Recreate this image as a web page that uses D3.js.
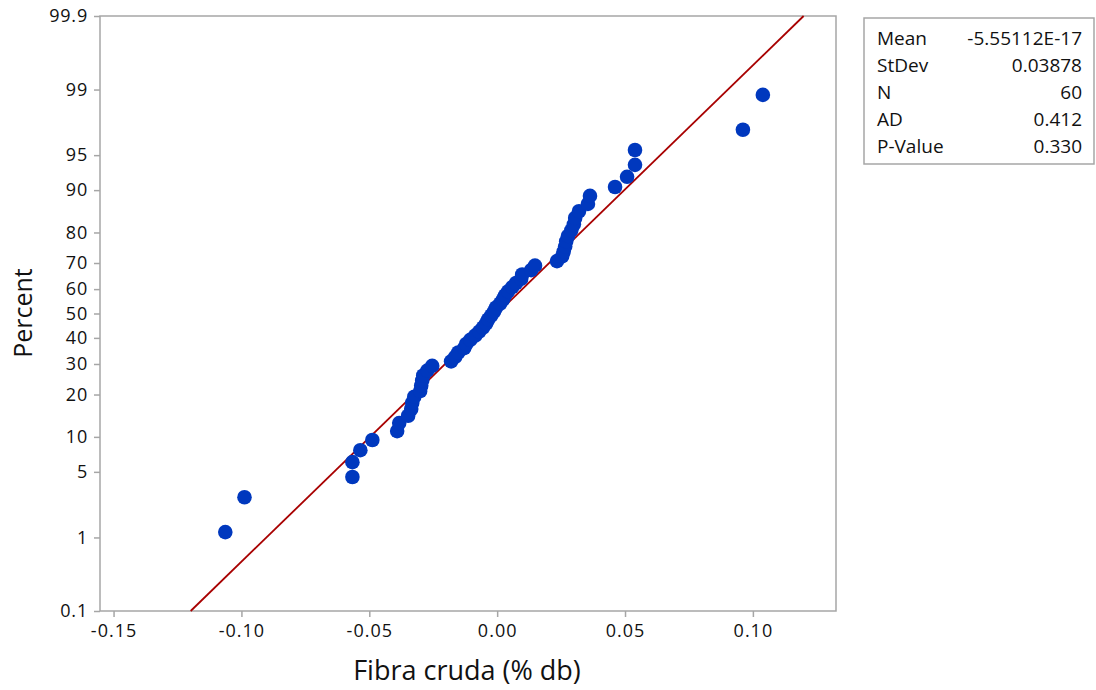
<!DOCTYPE html>
<html>
<head>
<meta charset="utf-8">
<script src="https://cdn.jsdelivr.net/npm/d3@7"></script>
<style>
  body { margin: 0; background: #fff; }
  text { font-family: 'Open Sans', 'Noto Sans', sans-serif; fill: #111; }
</style>
</head>
<body>
<script>
// sorted sample values
var values = [
  -0.1063, -0.0988, -0.0566, -0.0566, -0.0535, -0.0488, -0.0391, -0.0383, -0.0348, -0.0336,
  -0.0332, -0.0324, -0.0301, -0.0297, -0.0293, -0.0289, -0.0273, -0.0254, -0.0180, -0.0164,
  -0.0152, -0.0129, -0.0121, -0.0105, -0.0086, -0.0070, -0.0055, -0.0043, -0.0035, -0.0023,
  -0.0012, -0.0004, 0.0012, 0.0023, 0.0031, 0.0043, 0.0059, 0.0074, 0.0094, 0.0098,
  0.0133, 0.0148, 0.0234, 0.0254, 0.0260, 0.0266, 0.0270, 0.0277, 0.0290, 0.0300,
  0.0305, 0.0320, 0.0355, 0.0363, 0.0461, 0.0508, 0.0539, 0.0539, 0.0961, 0.1039
]
var xTicks = [-0.15, -0.10, -0.05, 0.00, 0.05, 0.10]
var pctTicks = [0.1, 1, 5, 10, 20, 30, 40, 50, 60, 70, 80, 90, 95, 99, 99.9]
var statLabels = ['Mean', 'StDev', 'N', 'AD', 'P-Value']
var statValues = ['-5.55112E-17', '0.03878', '60', '0.412', '0.330']
var fitMean = 0
var fitSd = 0.03878

// inverse normal cdf (Acklam)
function qnorm (p) {
  var a = [-39.69683028665376, 220.9460984245205, -275.9285104469687, 138.3577518672690, -30.66479806614716, 2.506628277459239]
  var b = [-54.47609879822406, 161.5858368580409, -155.6989798598866, 66.80131188771972, -13.28068155288572]
  var c = [-0.007784894002430293, -0.3223964580411365, -2.400758277161838, -2.549732539343734, 4.374664141464968, 2.938163982698783]
  var d = [0.007784695709041462, 0.3224671290700398, 2.445134137142996, 3.754408661907416]
  var q, r
  if (p < 0.02425) {
    q = Math.sqrt(-2 * Math.log(p))
    return (((((c[0] * q + c[1]) * q + c[2]) * q + c[3]) * q + c[4]) * q + c[5]) / ((((d[0] * q + d[1]) * q + d[2]) * q + d[3]) * q + 1)
  }
  if (p > 1 - 0.02425) return -qnorm(1 - p)
  q = p - 0.5
  r = q * q
  return (((((a[0] * r + a[1]) * r + a[2]) * r + a[3]) * r + a[4]) * r + a[5]) * q / (((((b[0] * r + b[1]) * r + b[2]) * r + b[3]) * r + b[4]) * r + 1)
}

var width = 1096
var height = 690
var plotLeft = 100
var plotRight = 836
var plotTop = 16
var plotBottom = 611

var svg = d3.select('body').append('svg')
  .attr('width', width)
  .attr('height', height)

var x = d3.scaleLinear().domain([-0.1553, 0.1325]).range([plotLeft, plotRight])
var y = d3.scaleLinear().domain([qnorm(0.001), qnorm(0.999)]).range([plotBottom, plotTop])

var n = values.length
var points = values.map(function (v, i) {
  return { v: v, z: qnorm((i + 1 - 0.3) / (n + 0.4)) }
})

// frame
svg.append('rect')
  .attr('x', plotLeft)
  .attr('y', plotTop)
  .attr('width', plotRight - plotLeft)
  .attr('height', plotBottom - plotTop)
  .style('fill', 'none')
  .style('stroke', '#a6a6a6')
  .style('stroke-width', 1.5)

// y axis
var yAxis = d3.axisLeft(y)
  .tickValues(pctTicks.map(function (p) { return qnorm(p / 100) }))
  .tickFormat(function (d, i) { return String(pctTicks[i]) })
  .tickSize(6)
  .tickSizeOuter(0)
var gy = svg.append('g').attr('transform', 'translate(' + plotLeft + ',0)').call(yAxis)
gy.attr('font-family', null)
gy.select('.domain').remove()
gy.selectAll('line').style('stroke', '#a6a6a6').style('stroke-width', 1.5)
gy.selectAll('text')
  .attr('fill', null)
  .attr('x', -12)
  .style('font-size', '18px')
  .style('letter-spacing', '0.8px')

// x axis
var xAxis = d3.axisBottom(x)
  .tickValues(xTicks)
  .tickFormat(function (d) { return d3.format('.2f')(d).replace('−', '-') })
  .tickSize(6)
  .tickSizeOuter(0)
var gx = svg.append('g').attr('transform', 'translate(0,' + plotBottom + ')').call(xAxis)
gx.attr('font-family', null)
gx.select('.domain').remove()
gx.selectAll('line').style('stroke', '#a6a6a6').style('stroke-width', 1.5)
gx.selectAll('text')
  .attr('fill', null)
  .attr('y', 13)
  .style('font-size', '18px')
  .style('letter-spacing', '1px')

// fitted line
var zLo = qnorm(0.001)
var zHi = qnorm(0.999)
svg.append('line')
  .attr('x1', x(fitMean + zLo * fitSd))
  .attr('y1', y(zLo))
  .attr('x2', x(fitMean + zHi * fitSd))
  .attr('y2', y(zHi))
  .style('stroke', '#a80000')
  .style('stroke-width', 1.8)

// points
svg.append('g').selectAll('circle')
  .data(points)
  .enter().append('circle')
  .attr('cx', function (d) { return x(d.v) })
  .attr('cy', function (d) { return y(d.z) })
  .attr('r', 7.3)
  .style('fill', '#0038be')

// axis titles
svg.append('text')
  .attr('x', 467)
  .attr('y', 680)
  .attr('text-anchor', 'middle')
  .style('font-size', '27px')
  .text('Fibra cruda (% db)')

svg.append('text')
  .attr('transform', 'translate(32,313) rotate(-90)')
  .attr('text-anchor', 'middle')
  .style('font-size', '25px')
  .text('Percent')

// stats box
var box = svg.append('g')
box.append('rect')
  .attr('x', 864)
  .attr('y', 18)
  .attr('width', 230)
  .attr('height', 146)
  .style('fill', '#fff')
  .style('stroke', '#a6a6a6')
  .style('stroke-width', 1.5)

statLabels.forEach(function (lab, i) {
  var yy = 45 + i * 27
  box.append('text').attr('x', 877).attr('y', yy).style('font-size', '19px').text(lab)
  box.append('text').attr('x', 1082).attr('y', yy).attr('text-anchor', 'end').style('font-size', '19px').text(statValues[i])
})
</script>
</body>
</html>
